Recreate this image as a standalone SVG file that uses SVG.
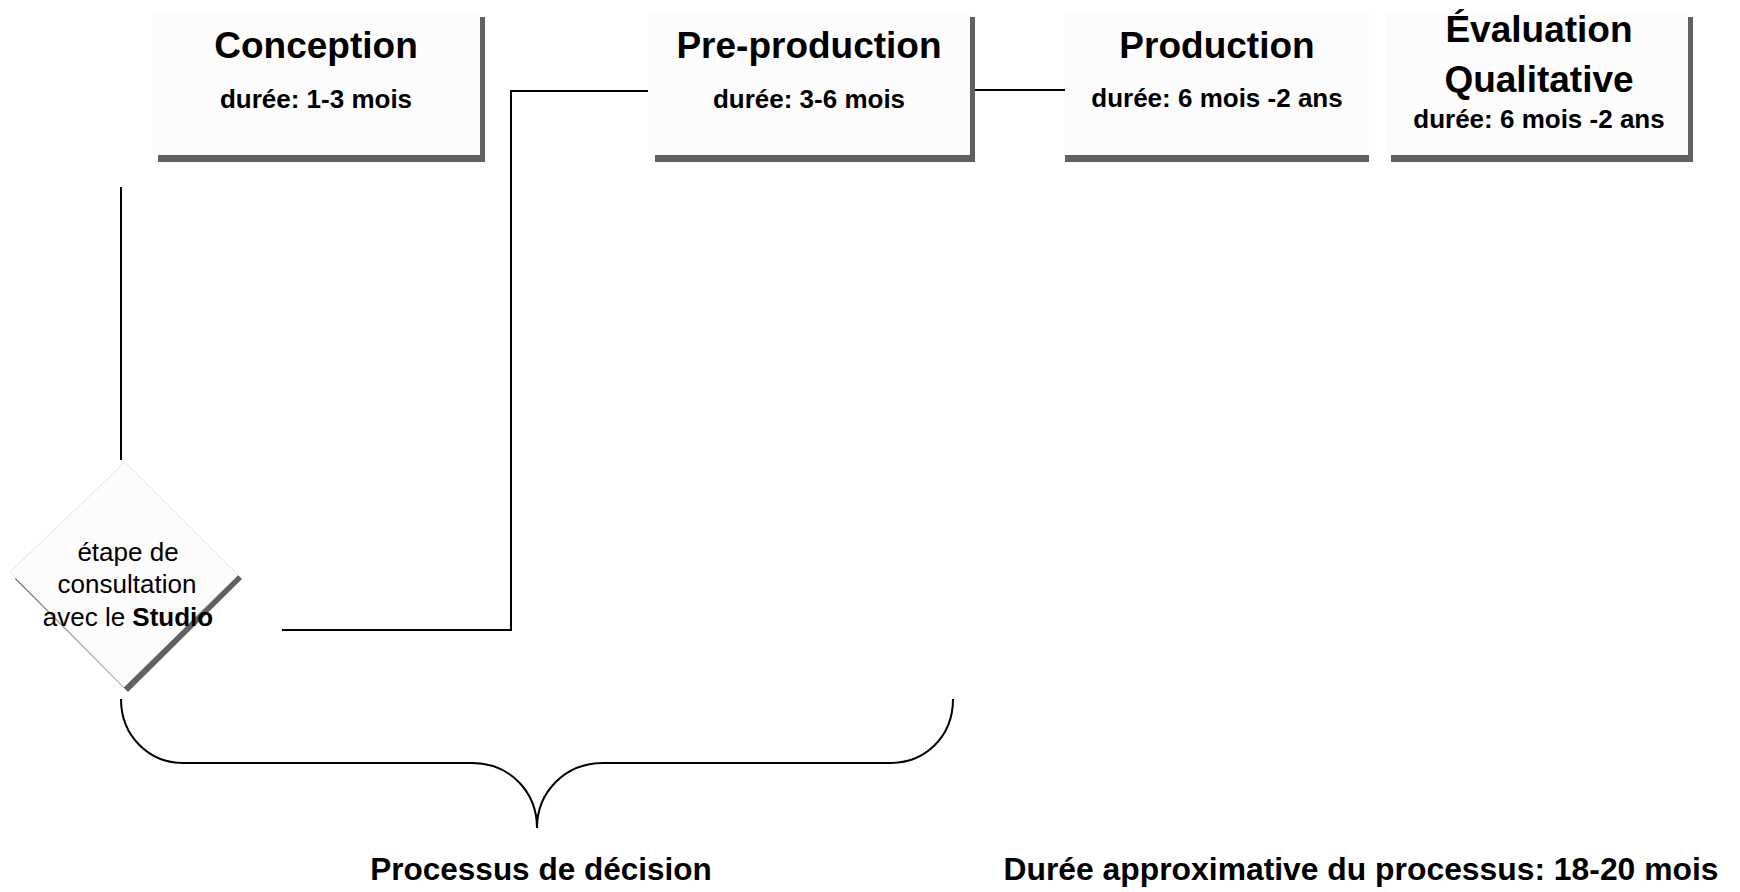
<svg xmlns="http://www.w3.org/2000/svg" width="1740" height="892" viewBox="0 0 1740 892">
<style>
.box{fill:#fcfcfc;}
.shadow{fill:#606060;}
.title{font-family:"Liberation Sans",Arial,sans-serif;font-weight:bold;font-size:37px;fill:#000;text-anchor:middle;}
.dur{font-family:"Liberation Sans",Arial,sans-serif;font-weight:bold;font-size:26px;fill:#000;text-anchor:middle;}
.diam{font-family:"Liberation Sans",Arial,sans-serif;font-size:26px;fill:#000;text-anchor:middle;}
.big{font-family:"Liberation Sans",Arial,sans-serif;font-weight:bold;font-size:31.5px;fill:#000;text-anchor:middle;}
.line{fill:none;stroke:#000;stroke-width:2;}
</style>
<rect width="1740" height="892" fill="#fff"/>
<g id="connectors">
<line class="line" x1="121" y1="187" x2="121" y2="460"/>
<polyline class="line" points="282,630 511,630 511,91 650,91"/>
<line class="line" x1="968" y1="90" x2="1065" y2="90"/>
<path class="line" d="M121,699 C121,737 150,763 183,763 L472,763 C510,763 537,792 537,828 C537,792 565,763 603,763 L890,763 C925,763 953,737 953,699"/>
</g>
<g id="conception">
<rect class="shadow" x="158" y="17" width="327" height="145"/>
<rect class="box" x="153" y="11" width="327" height="144"/>
<text class="title" x="316" y="58">Conception</text>
<text class="dur" x="316" y="108">durée: 1-3 mois</text>
</g>
<g id="preproduction">
<rect class="shadow" x="655" y="17" width="320" height="145"/>
<rect class="box" x="648" y="11" width="322" height="144"/>
<text class="title" x="809" y="58">Pre-production</text>
<text class="dur" x="809" y="108">durée: 3-6 mois</text>
</g>
<g id="production">
<rect class="shadow" x="1065" y="17" width="304" height="145"/>
<rect class="box" x="1065" y="11" width="304" height="144"/>
<text class="title" x="1217" y="58">Production</text>
<text class="dur" x="1217" y="107">durée: 6 mois -2 ans</text>
</g>
<g id="evaluation">
<rect class="shadow" x="1391" y="17" width="302" height="145"/>
<rect class="box" x="1386" y="11" width="302" height="144"/>
<text class="title" x="1539" y="42">Évaluation</text>
<text class="title" x="1539" y="92">Qualitative</text>
<text class="dur" x="1539" y="128">durée: 6 mois -2 ans</text>
</g>
<g id="consultation">
<polygon class="shadow" points="129,466 242,579 128,692 15,579"/>
<polygon points="125,462 238,575 124,687 10,572" fill="#fcfcfc" stroke="#e4e4e4" stroke-width="1"/>
<text class="diam" x="128" y="561">étape de</text>
<text class="diam" x="127" y="593">consultation</text>
<text class="diam" x="128" y="626">avec le <tspan font-weight="bold">Studio</tspan></text>
</g>
<g id="labels">
<text class="big" x="541" y="880">Processus de décision</text>
<text class="big" x="1361" y="880" textLength="715" lengthAdjust="spacingAndGlyphs">Durée approximative du processus: 18-20 mois</text>
</g>
</svg>
